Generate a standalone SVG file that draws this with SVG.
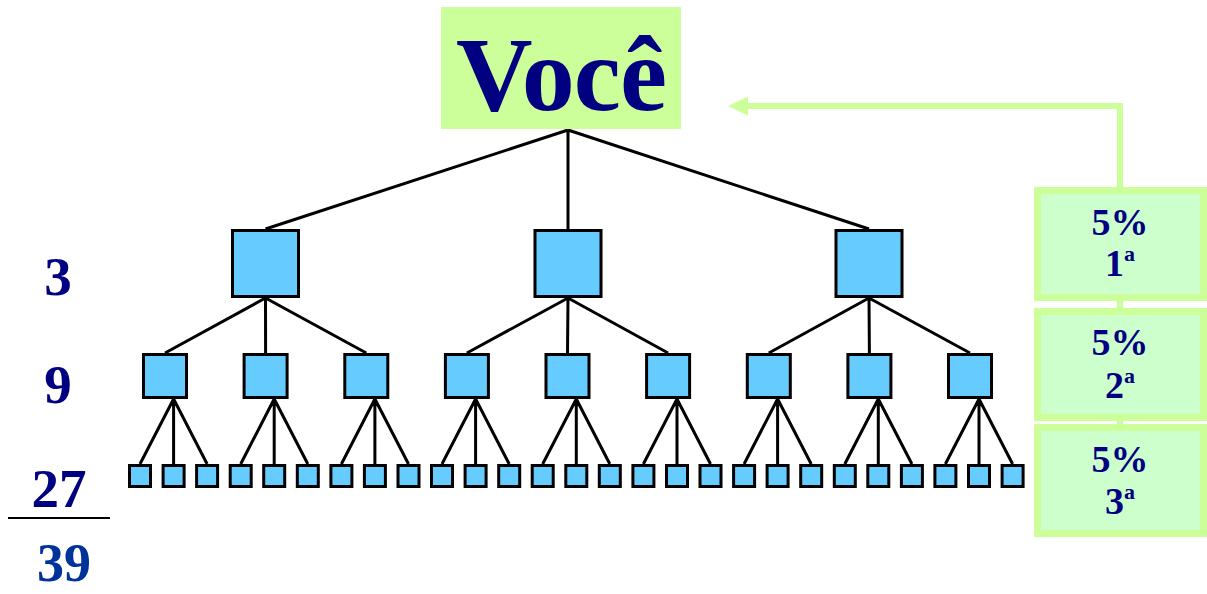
<svg xmlns="http://www.w3.org/2000/svg" width="1207" height="594" viewBox="0 0 1207 594">
<defs>
<style>
.n1,.n2,.n3{fill:#66ccff;stroke:#000;stroke-width:3}
.e{stroke:#000;stroke-width:3;fill:none}
.g{stroke:#ccff99;stroke-width:6;fill:none}
.pb{fill:#ccffcc;stroke:#ccff99;stroke-width:7}
.t{font-family:"Liberation Serif","Times New Roman",serif;font-weight:bold;fill:#000080;text-anchor:middle}
.pt{font-size:38px}
.ln{font-size:55px}
</style>
</defs>
<rect width="1207" height="594" fill="#fff"/>
<g id="connectors">
<path class="e" d="M568,130L265.5,229M568,130L568,229M568,130L869,229"/>
<path class="e" d="M265.5,298L165,353M265.5,298L265.6,353M265.5,298L366.3,353M568,298L466.9,353M568,298L567.5,353M568,298L668.1,353M869,298L768.8,353M869,298L869.4,353M869,298L970,353"/>
<path class="e" d="M173.6,399L140,464M173.6,399L173.6,464M173.6,399L207.1,464M274.2,399L240.7,464M274.2,399L274.2,464M274.2,399L307.8,464M374.9,399L341.4,464M374.9,399L374.9,464M374.9,399L408.5,464M475.6,399L442,464M475.6,399L475.6,464M475.6,399L509.2,464M576.3,399L542.7,464M576.3,399L576.3,464M576.3,399L609.8,464M677,399L643.4,464M677,399L677,464M677,399L710.5,464M777.6,399L744.1,464M777.6,399L777.6,464M777.6,399L811.2,464M878.3,399L844.8,464M878.3,399L878.3,464M878.3,399L911.9,464M979,399L945.4,464M979,399L979,464M979,399L1012.6,464"/>
<polyline class="g" points="1120,190 1120,106 746,106"/>
<polygon points="728,106 748,96.5 748,115.5" fill="#ccff99"/>
<line class="g" x1="1120" y1="296" x2="1120" y2="312"/>
<line class="g" x1="1120" y1="416" x2="1120" y2="428"/>
</g>
<g id="voce">
<rect x="441" y="7" width="240" height="122" fill="#ccff99"/>
<text class="t" x="561" y="110" font-size="106" letter-spacing="-1">Você</text>
</g>
<g id="level1">
<rect class="n1" x="232.5" y="230.5" width="66" height="66"/>
<rect class="n1" x="535" y="230.5" width="66" height="66"/>
<rect class="n1" x="836" y="230.5" width="66" height="66"/>
</g>
<g id="level2">
<rect class="n2" x="143.5" y="354.5" width="43" height="43"/>
<rect class="n2" x="244.1" y="354.5" width="43" height="43"/>
<rect class="n2" x="344.8" y="354.5" width="43" height="43"/>
<rect class="n2" x="445.4" y="354.5" width="43" height="43"/>
<rect class="n2" x="546" y="354.5" width="43" height="43"/>
<rect class="n2" x="646.6" y="354.5" width="43" height="43"/>
<rect class="n2" x="747.3" y="354.5" width="43" height="43"/>
<rect class="n2" x="847.9" y="354.5" width="43" height="43"/>
<rect class="n2" x="948.5" y="354.5" width="43" height="43"/>
</g>
<g id="level3">
<rect class="n3" x="129.5" y="465.5" width="21" height="21"/>
<rect class="n3" x="163.1" y="465.5" width="21" height="21"/>
<rect class="n3" x="196.6" y="465.5" width="21" height="21"/>
<rect class="n3" x="230.2" y="465.5" width="21" height="21"/>
<rect class="n3" x="263.7" y="465.5" width="21" height="21"/>
<rect class="n3" x="297.3" y="465.5" width="21" height="21"/>
<rect class="n3" x="330.9" y="465.5" width="21" height="21"/>
<rect class="n3" x="364.4" y="465.5" width="21" height="21"/>
<rect class="n3" x="398" y="465.5" width="21" height="21"/>
<rect class="n3" x="431.5" y="465.5" width="21" height="21"/>
<rect class="n3" x="465.1" y="465.5" width="21" height="21"/>
<rect class="n3" x="498.7" y="465.5" width="21" height="21"/>
<rect class="n3" x="532.2" y="465.5" width="21" height="21"/>
<rect class="n3" x="565.8" y="465.5" width="21" height="21"/>
<rect class="n3" x="599.3" y="465.5" width="21" height="21"/>
<rect class="n3" x="632.9" y="465.5" width="21" height="21"/>
<rect class="n3" x="666.5" y="465.5" width="21" height="21"/>
<rect class="n3" x="700" y="465.5" width="21" height="21"/>
<rect class="n3" x="733.6" y="465.5" width="21" height="21"/>
<rect class="n3" x="767.1" y="465.5" width="21" height="21"/>
<rect class="n3" x="800.7" y="465.5" width="21" height="21"/>
<rect class="n3" x="834.3" y="465.5" width="21" height="21"/>
<rect class="n3" x="867.8" y="465.5" width="21" height="21"/>
<rect class="n3" x="901.4" y="465.5" width="21" height="21"/>
<rect class="n3" x="934.9" y="465.5" width="21" height="21"/>
<rect class="n3" x="968.5" y="465.5" width="21" height="21"/>
<rect class="n3" x="1002.1" y="465.5" width="21" height="21"/>
</g>
<g id="pct1">
<rect class="pb" x="1037.5" y="190.5" width="166" height="107"/>
<text class="t pt" x="1120" y="235">5%</text>
<text class="t pt" x="1120" y="276">1<tspan font-size="22" dy="-15">a</tspan></text>
</g>
<g id="pct2">
<rect class="pb" x="1037.5" y="311.5" width="166" height="106"/>
<text class="t pt" x="1120" y="355">5%</text>
<text class="t pt" x="1120" y="398">2<tspan font-size="22" dy="-15">a</tspan></text>
</g>
<g id="pct3">
<rect class="pb" x="1037.5" y="427.5" width="166" height="106"/>
<text class="t pt" x="1120" y="472">5%</text>
<text class="t pt" x="1120" y="514">3<tspan font-size="22" dy="-15">a</tspan></text>
</g>
<g id="counts">
<text class="t ln" x="58" y="295">3</text>
<text class="t ln" x="58" y="403">9</text>
<text class="t ln" x="59" y="507">27</text>
<line x1="8" y1="518" x2="110" y2="518" stroke="#000" stroke-width="2"/>
<text class="t" x="64" y="581" font-size="54" style="fill:#003399">39</text>
</g>
</svg>
